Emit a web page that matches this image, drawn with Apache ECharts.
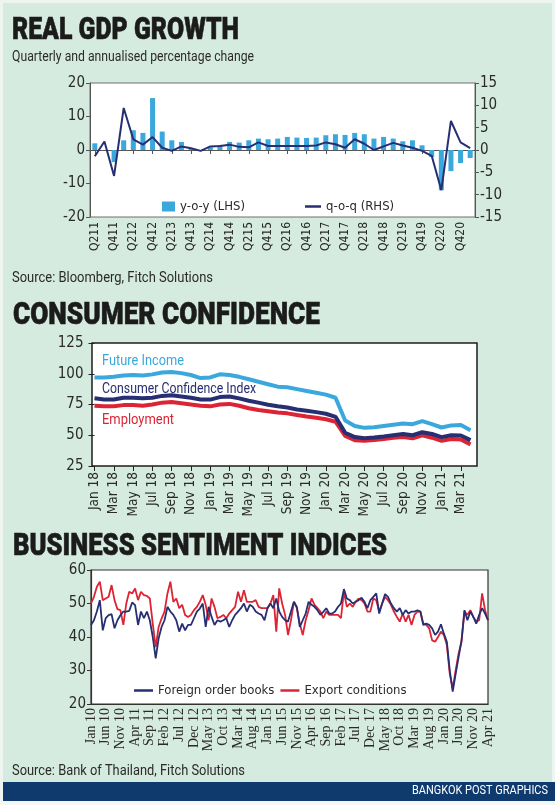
<!DOCTYPE html>
<html><head><meta charset="utf-8">
<script src="https://cdn.jsdelivr.net/npm/echarts@6/dist/echarts.min.js"></script>
<style>html,body{margin:0;padding:0;background:#fff}#c{width:555px;height:805px}</style>
</head><body><div id="c"></div>
<script>
// ---------- Real GDP growth ----------
const gdpQuarters = ['Q211','Q311','Q411','Q112','Q212','Q312','Q412','Q113','Q213','Q313','Q413','Q114','Q214','Q314','Q414','Q115','Q215','Q315','Q415','Q116','Q216','Q316','Q416','Q117','Q217','Q317','Q417','Q118','Q218','Q318','Q418','Q119','Q219','Q319','Q419','Q120','Q220','Q320','Q420','Q121'];
const gdpYoy = [2.0, null, -3.6, 2.9, 5.9, 5.1, 15.5, 5.5, 2.9, 2.4, 0.6, -0.3, 0.8, 1.4, 2.4, 2.2, 2.9, 3.4, 3.2, 3.4, 3.9, 3.7, 3.6, 3.7, 4.4, 4.7, 4.5, 5.1, 4.7, 3.4, 3.9, 3.4, 2.6, 2.9, 1.4, -2.1, -12.0, -6.3, -3.9, -2.4];
const gdpQoq = [-1.4, 1.9, -5.8, 9.4, 2.4, 1.2, 2.9, 0.5, -0.2, 0.8, 0.4, -0.2, 0.8, 0.9, 1.2, 0.7, 0.6, 1.7, 0.9, 0.9, 0.9, 0.9, 0.9, 1.0, 1.7, 1.3, 0.5, 2.4, 1.4, 0.0, 0.8, 1.6, 1.0, 0.5, -0.2, -1.3, -9.0, 6.5, 1.7, 0.4];
const gdpLeftAxis = {min: -20, max: 20, interval: 10};
const gdpRightAxis = {min: -15, max: 15, interval: 5};

// ---------- Consumer confidence ----------
const ccMonths = ['Jan 18','Feb 18','Mar 18','Apr 18','May 18','Jun 18','Jul 18','Aug 18','Sep 18','Oct 18','Nov 18','Dec 18',
  'Jan 19','Feb 19','Mar 19','Apr 19','May 19','Jun 19','Jul 19','Aug 19','Sep 19','Oct 19','Nov 19','Dec 19',
  'Jan 20','Feb 20','Mar 20','Apr 20','May 20','Jun 20','Jul 20','Aug 20','Sep 20','Oct 20','Nov 20','Dec 20',
  'Jan 21','Feb 21','Mar 21','Apr 21'];
const ccFutureIncome = [97, 97, 97.5, 98.5, 99, 98.5, 99.5, 101, 101.5, 100.5, 99, 96.5,
  97, 99.5, 99, 97.5, 95.5, 93.5, 91.5, 89.5, 89, 87.5, 86, 84.5,
  83, 80.5, 62, 57.5, 56, 56.5, 57.5, 58.5, 59.5, 59, 61.5, 59,
  56.3, 58, 58.3, 54];
const ccIndex = [80, 79, 79, 80.5, 80.5, 80, 80.5, 82, 82.5, 81.5, 80.5, 79,
  79, 81, 81.5, 80, 78, 76.5, 74.8, 73.5, 72.5, 71, 70, 68.8,
  67.5, 65, 52, 48.5, 47.5, 48.2, 49, 50, 51, 50, 52.5, 51,
  48.5, 50, 49.8, 46];
const ccEmployment = [74, 73.5, 73.5, 74.5, 74.5, 74, 75, 76.5, 77, 76, 75, 74,
  73.5, 75, 75.5, 74, 72, 70.5, 69.5, 68.5, 67.8, 66.5, 65.3, 64.2,
  63, 61, 49.5, 46, 45.5, 46.2, 47, 48, 48.6, 47.5, 50, 48,
  45.5, 47, 46.5, 42.6];
const ccAxis = {min: 25, max: 125, interval: 25};

// ---------- Business sentiment ----------
const bsMonths = [
  'Jan 10','Feb 10','Mar 10','Apr 10','May 10','Jun 10','Jul 10','Aug 10','Sep 10','Oct 10','Nov 10','Dec 10',
  'Jan 11','Feb 11','Mar 11','Apr 11','May 11','Jun 11','Jul 11','Aug 11','Sep 11','Oct 11','Nov 11','Dec 11',
  'Jan 12','Feb 12','Mar 12','Apr 12','May 12','Jun 12','Jul 12','Aug 12','Sep 12','Oct 12','Nov 12','Dec 12',
  'Jan 13','Feb 13','Mar 13','Apr 13','May 13','Jun 13','Jul 13','Aug 13','Sep 13','Oct 13','Nov 13','Dec 13',
  'Jan 14','Feb 14','Mar 14','Apr 14','May 14','Jun 14','Jul 14','Aug 14','Sep 14','Oct 14','Nov 14','Dec 14',
  'Jan 15','Feb 15','Mar 15','Apr 15','May 15','Jun 15','Jul 15','Aug 15','Sep 15','Oct 15','Nov 15','Dec 15',
  'Jan 16','Feb 16','Mar 16','Apr 16','May 16','Jun 16','Jul 16','Aug 16','Sep 16','Oct 16','Nov 16','Dec 16',
  'Jan 17','Feb 17','Mar 17','Apr 17','May 17','Jun 17','Jul 17','Aug 17','Sep 17','Oct 17','Nov 17','Dec 17',
  'Jan 18','Feb 18','Mar 18','Apr 18','May 18','Jun 18','Jul 18','Aug 18','Sep 18','Oct 18','Nov 18','Dec 18',
  'Jan 19','Feb 19','Mar 19','Apr 19','May 19','Jun 19','Jul 19','Aug 19','Sep 19','Oct 19','Nov 19','Dec 19',
  'Jan 20','Feb 20','Mar 20','Apr 20','May 20','Jun 20','Jul 20','Aug 20','Sep 20','Oct 20','Nov 20','Dec 20',
  'Jan 21','Feb 21','Mar 21','Apr 21'];
const bsForeignOrders = [
  43.6, 45, 47.6, 51, 42, 45.6, 46.5, 46.8, 42.6, 45, 46.5, 47.6,
  47.6, 47.8, 50.3, 49.5, 43.6, 47.6, 45.6, 47.6, 45, 40, 33.6, 39.6,
  43, 45, 49, 47.6, 46.6, 45, 41.6, 44, 42, 43.6, 43.6, 45.6,
  47.6, 48.5, 50, 43, 49, 46, 43.6, 45, 44.6, 45, 45.6, 43,
  45, 46.6, 47.6, 48.6, 50, 47.6, 49.6, 49, 47.6, 47, 46.6, 45,
  48.6, 50, 48.6, 51.5, 47.6, 46, 45, 44.6, 47.6, 50.5, 49, 43,
  45, 47, 50.5, 49.6, 49, 48, 46.6, 47.5, 48.6, 47, 47, 47.6,
  49, 50, 54.3, 51.5, 51, 50, 50.5, 51, 51.7, 50.5, 48.6, 51,
  52, 53, 47, 50, 52.8, 52, 50, 48.6, 47.6, 48.6, 46.6, 48,
  47, 47.6, 47.6, 48, 47.6, 43.6, 44, 43.6, 42.6, 40.6, 41.6, 43.8,
  41, 38.6, 30, 23.7, 29, 34, 39, 48, 45, 47.6, 46, 44,
  46.6, 48.6, 47, 45];
const bsExportConditions = [
  50, 52, 55, 56.5, 51, 51.5, 52, 55.5, 51, 48.3, 48, 43.6,
  50, 53.5, 53, 54.5, 51, 53.5, 52.5, 52.3, 51.5, 44, 37, 43,
  45.5, 47.6, 53, 56.5, 50.5, 51.5, 48.6, 49.6, 46.6, 46, 46.6, 48,
  49, 50.5, 52.5, 49.6, 45, 51.5, 49, 45.6, 46, 46.6, 45.6, 47,
  48, 49, 53.5, 50.5, 54, 50.5, 50.5, 50.5, 51, 49, 48.6, 48.6,
  48.6, 50, 52.5, 41.6, 54.5, 50, 46.6, 40.6, 45, 50.5, 48.6, 44,
  40.6, 45, 48, 51.5, 49.6, 48.6, 47.6, 45.6, 47.6, 46.6, 46.6, 46.6,
  46.6, 45.6, 53.5, 49, 50, 49, 50.5, 51.5, 51, 50, 47.6, 47.6,
  51.5, 51, 47.6, 50, 52, 51, 49.6, 47.6, 46, 44.6, 47, 44.6,
  46.6, 43.6, 46.6, 47.6, 47.6, 44, 43.6, 42.6, 39, 38.6, 40, 41.6,
  40.6, 37.6, 29, 24.6, 30, 35, 38.6, 47.6, 46.6, 48, 46, 44.6,
  45, 53, 48, 45];
const bsAxis = {min: 20, max: 60, interval: 10};

// ---------- styling ----------
const SANS = "'DejaVu Sans Condensed','Liberation Sans',sans-serif";
const HEAD = "Roboto,'DejaVu Sans Condensed',sans-serif";
const SERIF = "'Liberation Serif','DejaVu Serif',serif";
const BG = '#d6ebdf';
const LIGHTBLUE = '#3aa8dc';
const NAVY = '#272f72';
const RED = '#dc2434';
const TXT = '#2a2a2a';

const measureCtx = document.createElement('canvas').getContext('2d');
// text element horizontally squeezed so that it spans [x, right]
function fitText(x, y, text, size, color, right, opts) {
  opts = opts || {};
  const weight = opts.fontWeight || 'normal';
  const family = opts.fontFamily || HEAD;
  measureCtx.font = weight + ' ' + size + 'px ' + family;
  const w = measureCtx.measureText(text).width;
  const sx = Math.abs(right - x) / w;
  return {type: 'text', x: x, y: y, scaleX: sx, silent: true, z: 50,
    style: Object.assign({text: text, fontFamily: family, fontSize: size, fontWeight: weight, fill: color,
      align: opts.align || 'left', verticalAlign: 'middle'}, opts.extra || {})};
}
const titleOpts = {fontWeight: 900, extra: {stroke: '#1b1b1b', lineWidth: 0.6}};

const chart = echarts.init(document.getElementById('c'), null, {renderer: 'canvas'});
chart.setOption({
  animation: false,
  backgroundColor: BG,
  textStyle: {fontFamily: SANS, color: TXT},
  grid: [
    {left: 90, top: 83, width: 385, height: 134, show: true, backgroundColor: '#fff', borderColor: '#6e6e6e', borderWidth: 1, outerBoundsMode: 'none'},
    {left: 92, top: 343, width: 385, height: 123, show: true, backgroundColor: '#fff', borderColor: '#1e1e1e', borderWidth: 1.5, outerBoundsMode: 'none'},
    {left: 94.5, top: 343, width: 376, height: 123, outerBoundsMode: 'none'},
    {left: 91, top: 570, width: 397, height: 134, show: true, backgroundColor: '#fff', borderColor: '#333', borderWidth: 1.2, outerBoundsMode: 'none'}
  ],
  xAxis: [
    {gridIndex: 0, type: 'category', data: gdpQuarters, boundaryGap: true,
      axisLine: {show: true, lineStyle: {color: '#555', width: 1}},
      axisTick: {show: true, alignWithLabel: true, interval: 1, length: 4, lineStyle: {color: '#555'}},
      axisLabel: {interval: 1, rotate: 90, fontSize: 12, color: TXT, margin: 5, fontFamily: SANS},
      splitLine: {show: false}},
    {gridIndex: 1, type: 'value', show: false},
    {gridIndex: 2, type: 'category', data: ccMonths, boundaryGap: false,
      axisLine: {show: false},
      axisTick: {show: true, interval: 1, length: 5, lineStyle: {color: '#222'}},
      axisLabel: {interval: 1, rotate: 90, fontSize: 13.5, color: TXT, margin: 6, fontFamily: SANS},
      splitLine: {show: false}},
    {gridIndex: 3, type: 'category', data: bsMonths, boundaryGap: false,
      axisLine: {show: true, lineStyle: {color: '#333', width: 1.2}},
      axisTick: {show: false},
      axisLabel: {interval: 4, rotate: 90, fontSize: 14, color: TXT, margin: 4, fontFamily: SERIF},
      splitLine: {show: false}}
  ],
  yAxis: [
    {gridIndex: 0, type: 'value', position: 'left', min: gdpLeftAxis.min, max: gdpLeftAxis.max, interval: gdpLeftAxis.interval,
      axisLine: {show: true, lineStyle: {color: '#555'}}, axisTick: {show: true, length: 4, lineStyle: {color: '#555'}},
      axisLabel: {fontSize: 15, color: TXT, margin: 5, fontFamily: SANS}, splitLine: {show: false}},
    {gridIndex: 0, type: 'value', position: 'right', min: gdpRightAxis.min, max: gdpRightAxis.max, interval: gdpRightAxis.interval,
      axisLine: {show: true, lineStyle: {color: '#555'}}, axisTick: {show: true, length: 4, lineStyle: {color: '#555'}},
      axisLabel: {fontSize: 15, color: TXT, margin: 5, fontFamily: SANS}, splitLine: {show: false}},
    {gridIndex: 1, type: 'value', show: false},
    {gridIndex: 2, type: 'value', min: ccAxis.min, max: ccAxis.max, interval: ccAxis.interval,
      axisLine: {show: false}, axisTick: {show: true, length: 6, lineStyle: {color: '#222'}},
      axisLabel: {fontSize: 15, color: TXT, margin: 11, fontFamily: SANS}, splitLine: {show: false}},
    {gridIndex: 3, type: 'value', min: bsAxis.min, max: bsAxis.max, interval: bsAxis.interval,
      axisLine: {show: true, lineStyle: {color: '#333', width: 1.2}}, axisTick: {show: true, length: 4, lineStyle: {color: '#333'}},
      axisLabel: {fontSize: 15, color: TXT, margin: 5, fontFamily: SANS}, splitLine: {show: false}}
  ],
  legend: [
    {data: ['y-o-y (LHS)'], left: 157, top: 195, icon: 'rect', itemWidth: 13, itemHeight: 10,
      textStyle: {fontSize: 13, color: TXT, fontFamily: SANS}, selectedMode: false},
    {data: ['q-o-q (RHS)'], left: 300, top: 195, icon: 'rect', itemWidth: 16, itemHeight: 2.5,
      textStyle: {fontSize: 13, color: TXT, fontFamily: SANS}, selectedMode: false},
    {data: ['Foreign order books', 'Export conditions'], left: 129, top: 679, icon: 'rect', itemWidth: 19, itemHeight: 2.5, itemGap: 6,
      textStyle: {fontSize: 13, color: TXT, fontFamily: SANS}, selectedMode: false}
  ],
  series: [
    {name: 'y-o-y (LHS)', type: 'bar', xAxisIndex: 0, yAxisIndex: 0, data: gdpYoy, barWidth: 5,
      itemStyle: {color: LIGHTBLUE}},
    {name: 'q-o-q (RHS)', type: 'line', xAxisIndex: 0, yAxisIndex: 1, data: gdpQoq, symbol: 'none',
      lineStyle: {color: NAVY, width: 2}, itemStyle: {color: NAVY}},
    {name: 'Employment', type: 'line', xAxisIndex: 2, yAxisIndex: 3, data: ccEmployment, symbol: 'none',
      lineStyle: {color: RED, width: 4}, itemStyle: {color: RED}},
    {name: 'Consumer Confidence Index', type: 'line', xAxisIndex: 2, yAxisIndex: 3, data: ccIndex, symbol: 'none',
      lineStyle: {color: NAVY, width: 4}, itemStyle: {color: NAVY}},
    {name: 'Future Income', type: 'line', xAxisIndex: 2, yAxisIndex: 3, data: ccFutureIncome, symbol: 'none',
      lineStyle: {color: LIGHTBLUE, width: 4}, itemStyle: {color: LIGHTBLUE}},
    {name: 'Export conditions', type: 'line', xAxisIndex: 3, yAxisIndex: 4, data: bsExportConditions, symbol: 'none',
      lineStyle: {color: RED, width: 1.8}, itemStyle: {color: RED}},
    {name: 'Foreign order books', type: 'line', xAxisIndex: 3, yAxisIndex: 4, data: bsForeignOrders, symbol: 'none',
      lineStyle: {color: NAVY, width: 1.8}, itemStyle: {color: NAVY}}
  ],
  graphic: [
    {type: 'rect', shape: {x: 0, y: 0, width: 555, height: 3}, style: {fill: '#eef5f1'}, silent: true},
    {type: 'rect', shape: {x: 0, y: 0, width: 3, height: 805}, style: {fill: '#eef5f1'}, silent: true},
    {type: 'rect', shape: {x: 552, y: 0, width: 3, height: 782}, style: {fill: '#eef5f1'}, silent: true},
    {type: 'rect', shape: {x: 3, y: 782, width: 552, height: 19}, style: {fill: '#0f3a6e'}, silent: true},
    {type: 'rect', shape: {x: 0, y: 801, width: 555, height: 4}, style: {fill: '#f4f7f5'}, silent: true},
    fitText(12, 31, 'REAL GDP GROWTH', 31, '#1b1b1b', 239, titleOpts),
    fitText(12, 57, 'Quarterly and annualised percentage change', 15, TXT, 254),
    fitText(12, 278, 'Source: Bloomberg, Fitch Solutions', 15, TXT, 213),
    fitText(13, 316, 'CONSUMER CONFIDENCE', 31, '#1b1b1b', 320, titleOpts),
    fitText(102, 361, 'Future Income', 15, LIGHTBLUE, 184),
    fitText(102, 389, 'Consumer Confidence Index', 15, NAVY, 256),
    fitText(102, 420, 'Employment', 15, RED, 174),
    fitText(13, 547, 'BUSINESS SENTIMENT INDICES', 31, '#1b1b1b', 387, titleOpts),
    fitText(12, 771, 'Source: Bank of Thailand, Fitch Solutions', 15, TXT, 245),
    fitText(548, 791, 'BANGKOK POST GRAPHICS', 13, '#ffffff', 412, {align: 'right'})
  ]
});
</script></body></html>
